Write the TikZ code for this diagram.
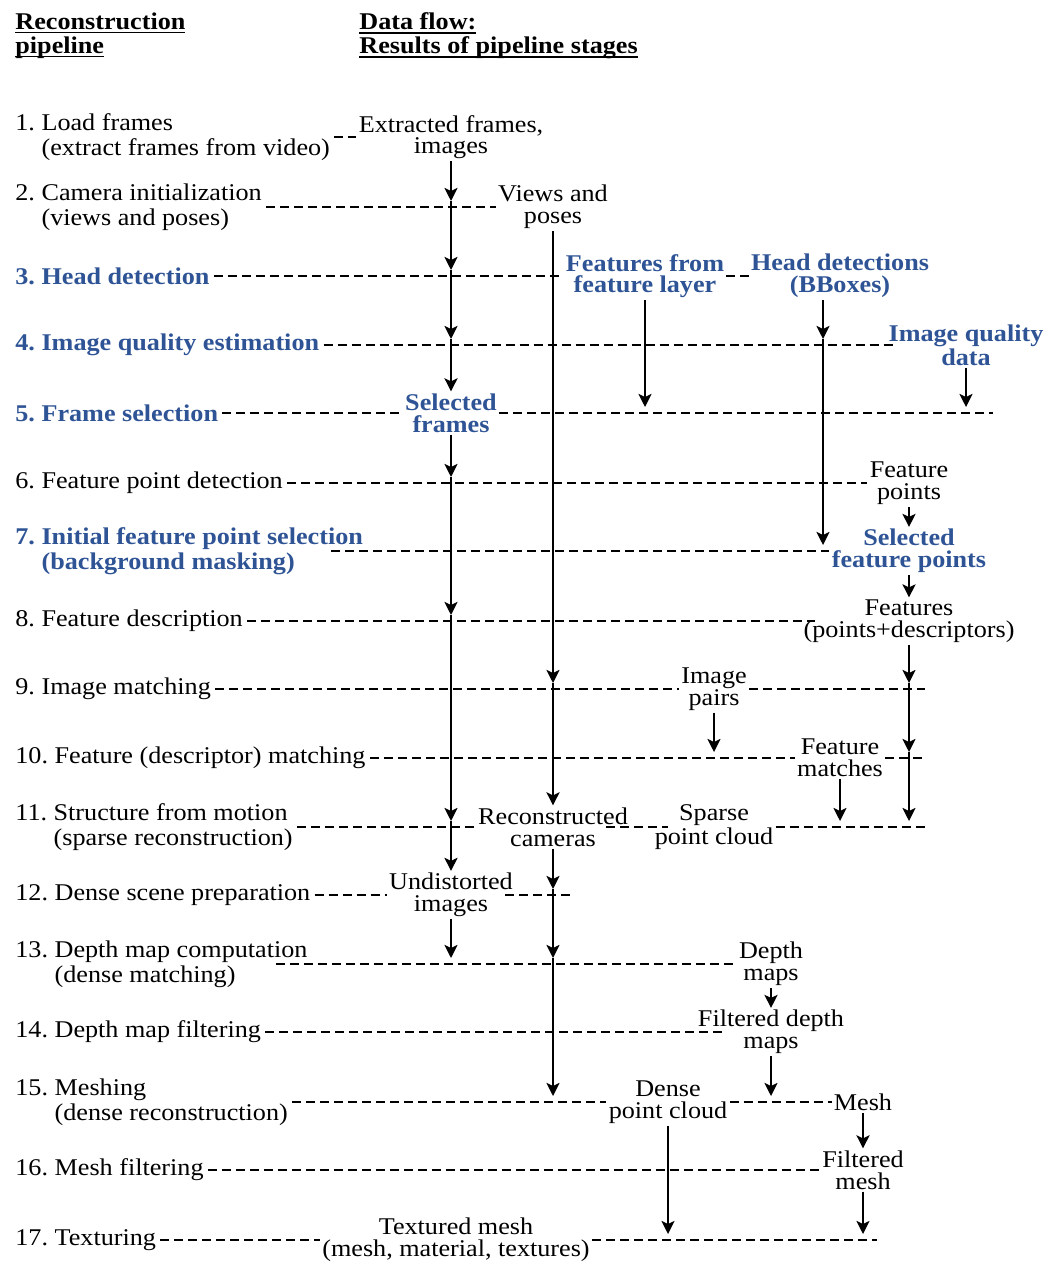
\documentclass[tikz,border=0pt]{standalone}
\IfFileExists{pplr8t.tfm}{%
  \usepackage[T1]{fontenc}
  \renewcommand{\rmdefault}{ppl}%
}{%
  \usepackage{fontspec}
  \setmainfont[FakeStretch=1.09]{Liberation Serif}%
}
\usetikzlibrary{arrows.meta}
\definecolor{newstep}{RGB}{47,84,150}
\newcommand{\headline}[1]{\sbox0{#1}\rlap{\rule[-2.2pt]{\wd0}{0.7pt}}\usebox0}
\tikzset{
  heading/.style={anchor=north west,align=left,inner sep=0pt,font=\fontsize{12}{12}\selectfont\bfseries},
  stage/.style={anchor=west,align=left,inner sep=2pt,font=\fontsize{12}{12.5}\selectfont},
  newstage/.style={stage,text=newstep,font=\fontsize{12}{12.5}\selectfont\bfseries},
  result/.style={align=center,inner sep=1pt,font=\fontsize{12}{10.8}\selectfont},
  newresult/.style={result,text=newstep,font=\fontsize{12}{10.8}\selectfont\bfseries},
  link/.style={line width=1pt,dash pattern=on 4.5pt off 2.5pt},
  flow/.style={line width=1.2pt,-{Stealth[length=6.5pt,width=6.5pt,inset=1.5pt]}},
}

\begin{document}
\begin{tikzpicture}[x=0.5pt,y=-0.5pt]
  \useasboundingbox (0,0) rectangle (1061,1262);
  \node[heading] (hpipe) at (15,12) {\headline{Reconstruction}\\\headline{pipeline}};
  \node[heading] (hflow) at (359,12) {\headline{Data flow:}\\\headline{Results of pipeline stages}};
  % pipeline stages
  \foreach \n/\y/\h/\t in {
    1/137/0/{1.~Load frames\\\hphantom{1.~}(extract frames from video)},
    2/207/0/{2.~Camera initialization\\\hphantom{2.~}(views and poses)},
    3/276/1/{3.~Head detection},
    4/345/1/{4.~Image quality estimation},
    5/413/1/{5.~Frame selection},
    6/483/0/{6.~Feature point detection},
    7/551/1/{7.~Initial feature point selection\\\hphantom{7.~}(background masking)},
    8/621/0/{8.~Feature description},
    9/689/0/{9.~Image matching},
    10/758/0/{10.~Feature (descriptor) matching},
    11/827/0/{11.~Structure from motion\\\hphantom{11.~}(sparse reconstruction)},
    12/895/0/{12.~Dense scene preparation},
    13/964/0/{13.~Depth map computation\\\hphantom{13.~}(dense matching)},
    14/1032/0/{14.~Depth map filtering},
    15/1102/0/{15.~Meshing\\\hphantom{15.~}(dense reconstruction)},
    16/1170/0/{16.~Mesh filtering},
    17/1240/0/{17.~Texturing}}{
    \ifnum\h=1
      \node[newstage] (s\n) at (11,\y) {\t};
    \else
      \node[stage] (s\n) at (11,\y) {\t};
    \fi
  }
  % results of the stages
  \foreach \m/\x/\y/\h/\t in {
    d1/451/137/0/{Extracted frames,\\images},
    d2/553/207/0/{Views and\\poses},
    d3a/645/276/1/{Features from\\feature layer},
    d3b/840/276/1/{Head detections\\(BBoxes)},
    d4/966/345/1/{Image quality\\data},
    d5/451/413/1/{Selected\\frames},
    d6/909/483/0/{Feature\\points},
    d7/909/551/1/{Selected\\feature points},
    d8/909/621/0/{Features\\(points+descriptors)},
    d9/714/689/0/{Image\\pairs},
    d10/840/758/0/{Feature\\matches},
    d11a/553/827/0/{Reconstructed\\cameras},
    d11b/714/827/0/{Sparse\\point cloud},
    d12/451/895/0/{Undistorted\\images},
    d13/771/964/0/{Depth\\maps},
    d14/771/1032/0/{Filtered depth\\maps},
    d15a/668/1102/0/{Dense\\point cloud},
    d15b/863/1102/0/{Mesh},
    d16/863/1170/0/{Filtered\\mesh},
    d17/456/1240/0/{Textured mesh\\(mesh, material, textures)}}{
    \ifnum\h=1
      \node[newresult] (\m) at (\x,\y) {\t};
    \else
      \node[result] (\m) at (\x,\y) {\t};
    \fi
  }
  % line ends and arrow tips
  \foreach \c/\x/\y in {e5/993/413, e9/925/689, e10/925/758, e11/925/827, e12/572/895, e17/877/1240,
    f2/451/201, f3/451/270, f4/451/339, f6/451/477, f8/451/615, f11/451/821, f13/451/958,
    v9/553/683, v12/553/889, v13/553/958, v15/553/1096, l5/645/407, h4/823/339, h7/823/545,
    q5/966/407, p9/909/683, p10/909/752, p11/909/821, m10/714/752, n11/840/821,
    z15/771/1096, g17/668/1234, k17/863/1234}
    \coordinate (\c) at (\x,\y);
  % dashed stage lines
  \draw[link] (s1.east) -- (d1.west);
  \draw[link] (s2.east) -- (d2.west);
  \draw[link] (s3.east) -- (d3a.west);
  \draw[link] (d3a.east) -- (d3b.west);
  \draw[link] (s4.east) -- ([xshift=4pt]d4.west);
  \draw[link] (s5.east) -- (d5.west);
  \draw[link] (d5.east) -- (e5);
  \draw[link] (s6.east) -- (d6.west);
  \draw[link] ([xshift=-18pt]s7.east) -- (d7.west);
  \draw[link] (s8.east) -- ([xshift=7pt]d8.west);
  \draw[link] (s9.east) -- (d9.west);
  \draw[link] (d9.east) -- (e9);
  \draw[link] (s10.east) -- (d10.west);
  \draw[link] (d10.east) -- (e10);
  \draw[link] (s11.east) -- (d11a.west);
  \draw[link] ([xshift=-12pt]d11a.east) -- ([xshift=8pt]d11b.west);
  \draw[link] (d11b.east) -- (e11);
  \draw[link] (s12.east) -- (d12.west);
  \draw[link] ([xshift=-5pt]d12.east) -- (e12);
  \draw[link] ([xshift=-18pt]s13.east) -- (d13.west);
  \draw[link] (s14.east) -- ([xshift=13.5pt]d14.west);
  \draw[link] (s15.east) -- (d15a.west);
  \draw[link] (d15a.east) -- (d15b.west);
  \draw[link] (s16.east) -- (d16.west);
  \draw[link] (s17.east) -- (d17.west);
  \draw[link] (d17.east) -- (e17);
  % data flow
  \foreach \a/\b in {d1.south/f2, f2/f3, f3/f4, f4/d5.north, d5.south/f6, f6/f8, f8/f11,
    f11/d12.north, d12.south/f13, d2.south/v9, v9/d11a.north, d11a.south/v12, v12/v13,
    v13/v15, d3a.south/l5, h4/h7, d4.south/q5, d6.south/d7.north, d7.south/d8.north,
    d8.south/p9, p9/p10, p10/p11, d9.south/m10, d10.south/n11, d13.south/d14.north,
    d14.south/z15, d15a.south/g17, d15b.south/d16.north, d16.south/k17}
    \draw[flow] (\a) -- (\b);
  \draw[flow] ([xshift=-8.5pt]d3b.south) -- (h4);
\end{tikzpicture}
\end{document}
